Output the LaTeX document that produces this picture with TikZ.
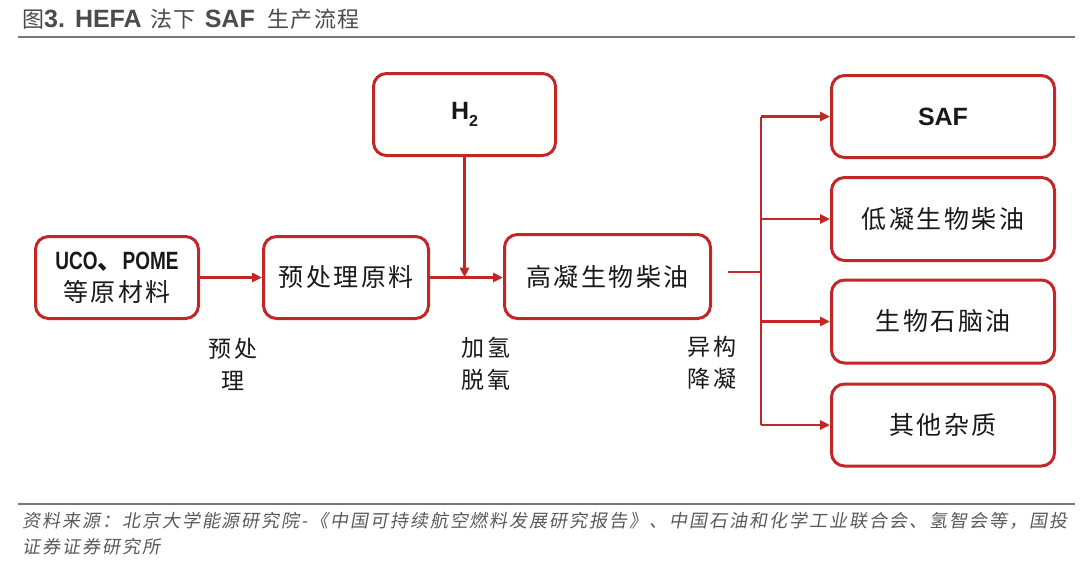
\documentclass[tikz,border=0pt]{standalone}
\usepackage{fontspec}
\setmainfont{Liberation Sans}
\newfontfamily\cjk[LetterSpace=10]{Noto Sans CJK SC}
\newfontfamily\cjkplain{Noto Sans CJK SC}
\newfontfamily\cjktitle[LetterSpace=5]{Noto Sans CJK SC}
\newfontfamily\cjkslant[FakeSlant=0.18,LetterSpace=11]{Noto Sans CJK SC}
\newfontfamily\narrowsans[FakeStretch=0.76]{Liberation Sans}
\usetikzlibrary{arrows.meta}
\definecolor{redc}{RGB}{194,38,38}
\definecolor{titlegray}{RGB}{75,75,75}
\definecolor{rulegray}{RGB}{120,120,120}
\definecolor{footgray}{RGB}{90,90,90}
\definecolor{txt}{RGB}{25,25,25}
\tikzset{
  box/.style={draw=redc, line width=3pt, rounded corners=13pt, fill=white,
    text=txt, inner sep=0pt, align=center},
  boxtext/.style={font=\fontsize{25}{32}\selectfont\cjk},
  arr/.style={draw=redc, line width=2.6pt, -{Triangle[length=10pt,width=9pt]}},
  ln/.style={draw=redc, line width=2.6pt},
  lab/.style={text=txt, align=center, font=\fontsize{23}{32}\selectfont\cjk},
}
\newcommand{\tcj}[1]{{\fontsize{22}{24}\selectfont\cjktitle #1}}
\newcommand{\tlat}[1]{{\fontsize{25}{24}\selectfont\bfseries #1}}
\begin{document}
\begin{tikzpicture}[x=1pt,y=-1pt]
\useasboundingbox (0,0) rectangle (1080,568);
\fill[white] (0,0) rectangle (1080,568);
% title
\node[anchor=west, text=titlegray, inner sep=0pt] (title) at (22,19)
  {\tcj{图}\tlat{3.}\hspace{10pt}\tlat{HEFA}\hspace{9pt}\tcj{法下}\hspace{9pt}\tlat{SAF}\hspace{13pt}\tcj{生产流程}};
\draw[rulegray, line width=2pt] (18,37) -- (1075,37);
% boxes
\node[box, font=\fontsize{25}{32}\selectfont, minimum width=163pt, minimum height=82pt] (uco) at (117,277.5)
  {{\narrowsans\bfseries UCO{\cjkplain 、}POME}\\{\cjk 等原材料}};
\node[box, boxtext, minimum width=165pt, minimum height=82pt] (pre) at (346,277.5) {预处理原料};
\node[box, minimum width=182pt, minimum height=82pt] (h2) at (464.5,114.5)
  {\fontsize{25}{30}\selectfont\bfseries H\raisebox{-0.28em}{\fontsize{16}{16}\selectfont 2}};
\node[box, boxtext, minimum width=206pt, minimum height=84pt] (hv) at (607.5,276.5) {高凝生物柴油};
\node[box, minimum width=223pt, minimum height=82pt] (saf) at (943,116.5)
  {\fontsize{25}{30}\selectfont\bfseries SAF};
\node[box, boxtext, minimum width=223pt, minimum height=83pt] (low) at (943,219) {低凝生物柴油};
\node[box, boxtext, minimum width=223pt, minimum height=83pt] (nap) at (943,321.5) {生物石脑油};
\node[box, boxtext, minimum width=223pt, minimum height=82pt] (imp) at (943,425) {其他杂质};
% connectors
\draw[arr] (uco.east) -- (pre.west);
\draw[arr] (pre.east) -- (pre.east -| hv.west);
\draw[arr] (h2.south) -- (h2.south |- pre.east);
\coordinate (js) at (728,272);
\coordinate (j) at (761,272);
\draw[ln] (js) -- (j);
\draw[ln] (j |- saf.west) -- (j |- imp.west);
\draw[arr] (j |- saf.west) -- (saf.west);
\draw[arr] (j |- low.west) -- (low.west);
\draw[arr] (j |- nap.west) -- (nap.west);
\draw[arr] (j |- imp.west) -- (imp.west);
% step labels
\node[lab] (l1) at (233,364) {预处\\理};
\node[lab] (l2) at (486,364) {加氢\\脱氧};
\node[lab] (l3) at (712,363) {异构\\降凝};
% footer
\draw[rulegray, line width=1.6pt] (18,504) -- (1075,504);
\node[anchor=west, inner sep=0pt, text=footgray, font=\fontsize{18}{22}\selectfont\cjkslant] (f1) at (22,521)
  {资料来源：北京大学能源研究院-《中国可持续航空燃料发展研究报告》、中国石油和化学工业联合会、氢智会等，国投};
\node[anchor=west, inner sep=0pt, text=footgray, font=\fontsize{18}{22}\selectfont\cjkslant] (f2) at (22,547)
  {证券证券研究所};
\end{tikzpicture}
\end{document}
